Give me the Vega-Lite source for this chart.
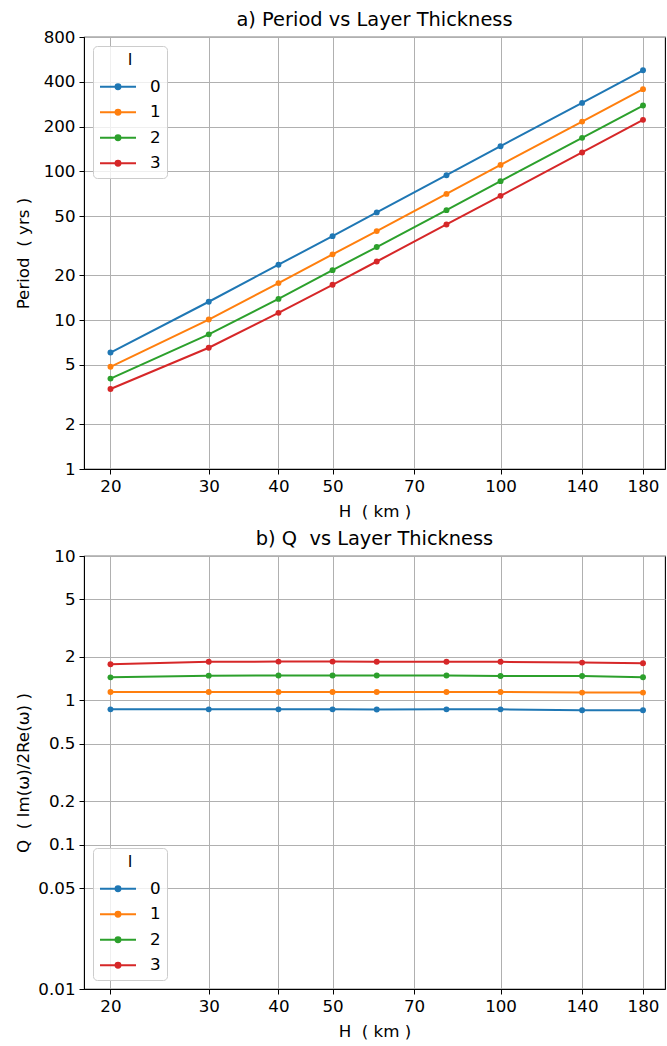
{
  "$schema": "https://vega.github.io/schema/vega-lite/v6.json",
  "padding": {"left": 14, "top": 9, "right": 0, "bottom": 4},
  "background": "white",
  "config": {
    "font": "DejaVu Sans",
    "view": {"stroke": "black", "strokeWidth": 1.1},
    "axis": {
      "domainColor": "black", "tickColor": "black", "labelColor": "black", "titleColor": "black",
      "gridColor": "#b0b0b0", "gridWidth": 1, "labelFontSize": 16.7, "titleFontSize": 16.7,
      "titleFontWeight": "normal", "tickSize": 5, "labelPadding": 4,
      "labelFont": "DejaVu Sans", "titleFont": "DejaVu Sans"
    },
    "axisY": {"minExtent": 47, "maxExtent": 47, "titlePadding": 5},
    "axisX": {"titlePadding": 9},
    "title": {"fontSize": 19.4, "fontWeight": "normal", "offset": -1, "font": "DejaVu Sans", "color": "black"},
    "legend": {
      "fillColor": "rgba(255,255,255,0.8)", "strokeColor": "#cccccc", "cornerRadius": 4, "padding": 6,
      "titleFontSize": 16.7, "labelFontSize": 16.7, "titleFontWeight": "normal", "titleAnchor": "middle",
      "titleColor": "black", "labelColor": "black", "titleFont": "DejaVu Sans", "labelFont": "DejaVu Sans",
      "titlePadding": 7,
      "symbolType": "M-1,0H2.6M0.555,0A0.245,0.245 0 1,0 1.045,0A0.245,0.245 0 1,0 0.555,0Z",
      "symbolSize": 400, "symbolStrokeWidth": 2, "labelOffset": 29, "rowPadding": 5.5
    }
  },
  "datasets": {
    "period": [
      {"H": 20, "l": "0", "v": 6.06}, {"H": 30, "l": "0", "v": 13.3}, {"H": 40, "l": "0", "v": 23.6},
      {"H": 50, "l": "0", "v": 36.7}, {"H": 60, "l": "0", "v": 53.0}, {"H": 80, "l": "0", "v": 94.3},
      {"H": 100, "l": "0", "v": 147.7}, {"H": 140, "l": "0", "v": 288.5}, {"H": 180, "l": "0", "v": 478},
      {"H": 20, "l": "1", "v": 4.86}, {"H": 30, "l": "1", "v": 10.1}, {"H": 40, "l": "1", "v": 17.75},
      {"H": 50, "l": "1", "v": 27.7}, {"H": 60, "l": "1", "v": 39.7}, {"H": 80, "l": "1", "v": 70.6},
      {"H": 100, "l": "1", "v": 110.6}, {"H": 140, "l": "1", "v": 216}, {"H": 180, "l": "1", "v": 357},
      {"H": 20, "l": "2", "v": 4.05}, {"H": 30, "l": "2", "v": 8.03}, {"H": 40, "l": "2", "v": 13.9},
      {"H": 50, "l": "2", "v": 21.7}, {"H": 60, "l": "2", "v": 31.0}, {"H": 80, "l": "2", "v": 54.9},
      {"H": 100, "l": "2", "v": 86.0}, {"H": 140, "l": "2", "v": 168}, {"H": 180, "l": "2", "v": 277},
      {"H": 20, "l": "3", "v": 3.45}, {"H": 30, "l": "3", "v": 6.53}, {"H": 40, "l": "3", "v": 11.2},
      {"H": 50, "l": "3", "v": 17.3}, {"H": 60, "l": "3", "v": 24.8}, {"H": 80, "l": "3", "v": 44.0},
      {"H": 100, "l": "3", "v": 68.5}, {"H": 140, "l": "3", "v": 134}, {"H": 180, "l": "3", "v": 222}
    ],
    "q": [
      {"H": 20, "l": "0", "v": 0.866}, {"H": 30, "l": "0", "v": 0.866}, {"H": 40, "l": "0", "v": 0.866},
      {"H": 50, "l": "0", "v": 0.866}, {"H": 60, "l": "0", "v": 0.865}, {"H": 80, "l": "0", "v": 0.866},
      {"H": 100, "l": "0", "v": 0.866}, {"H": 140, "l": "0", "v": 0.853}, {"H": 180, "l": "0", "v": 0.853},
      {"H": 20, "l": "1", "v": 1.142}, {"H": 30, "l": "1", "v": 1.142}, {"H": 40, "l": "1", "v": 1.142},
      {"H": 50, "l": "1", "v": 1.142}, {"H": 60, "l": "1", "v": 1.141}, {"H": 80, "l": "1", "v": 1.141},
      {"H": 100, "l": "1", "v": 1.142}, {"H": 140, "l": "1", "v": 1.131}, {"H": 180, "l": "1", "v": 1.131},
      {"H": 20, "l": "2", "v": 1.443}, {"H": 30, "l": "2", "v": 1.483}, {"H": 40, "l": "2", "v": 1.485},
      {"H": 50, "l": "2", "v": 1.485}, {"H": 60, "l": "2", "v": 1.485}, {"H": 80, "l": "2", "v": 1.485},
      {"H": 100, "l": "2", "v": 1.475}, {"H": 140, "l": "2", "v": 1.475}, {"H": 180, "l": "2", "v": 1.445},
      {"H": 20, "l": "3", "v": 1.776}, {"H": 30, "l": "3", "v": 1.849}, {"H": 40, "l": "3", "v": 1.855},
      {"H": 50, "l": "3", "v": 1.855}, {"H": 60, "l": "3", "v": 1.849}, {"H": 80, "l": "3", "v": 1.849},
      {"H": 100, "l": "3", "v": 1.849}, {"H": 140, "l": "3", "v": 1.825}, {"H": 180, "l": "3", "v": 1.805}
    ]
  },
  "spacing": 7,
  "resolve": {"scale": {"color": "independent"}, "legend": {"color": "independent"}},
  "vconcat": [
    {
      "title": {"text": "a) Period vs Layer Thickness"},
      "width": 581, "height": 432,
      "data": {"name": "period"},
      "encoding": {
        "x": {"field": "H", "type": "quantitative", "title": "H\u00a0\u00a0( km )",
              "scale": {"type": "log", "domain": [17.93, 197.1], "nice": false},
              "axis": {"values": [20, 30, 40, 50, 70, 100, 140, 180], "format": "~g"}},
        "y": {"field": "v", "type": "quantitative", "title": "Period\u00a0\u00a0( yrs )",
              "scale": {"type": "log", "domain": [1, 800], "nice": false},
              "axis": {"values": [1, 2, 5, 10, 20, 50, 100, 200, 400, 800], "format": "~g"}},
        "color": {"field": "l", "type": "nominal", "title": "l",
                  "scale": {"domain": ["0", "1", "2", "3"], "range": ["#1f77b4", "#ff7f0e", "#2ca02c", "#d62728"]},
                  "legend": {"orient": "top-left", "offset": 9}}
      },
      "layer": [
        {"mark": {"type": "line", "strokeWidth": 2}},
        {"mark": {"type": "point", "filled": true, "size": 35, "opacity": 1}}
      ]
    },
    {
      "title": {"text": "b) Q\u00a0\u00a0vs Layer Thickness"},
      "width": 581, "height": 433,
      "data": {"name": "q"},
      "encoding": {
        "x": {"field": "H", "type": "quantitative", "title": "H\u00a0\u00a0( km )",
              "scale": {"type": "log", "domain": [17.93, 197.1], "nice": false},
              "axis": {"values": [20, 30, 40, 50, 70, 100, 140, 180], "format": "~g"}},
        "y": {"field": "v", "type": "quantitative", "title": "Q\u00a0\u00a0( Im(ω)/2Re(ω) )",
              "scale": {"type": "log", "domain": [0.01, 10], "nice": false},
              "axis": {"values": [0.01, 0.05, 0.1, 0.2, 0.5, 1, 2, 5, 10], "format": "~g"}},
        "color": {"field": "l", "type": "nominal", "title": "l",
                  "scale": {"domain": ["0", "1", "2", "3"], "range": ["#1f77b4", "#ff7f0e", "#2ca02c", "#d62728"]},
                  "legend": {"orient": "bottom-left", "offset": 9}}
      },
      "layer": [
        {"mark": {"type": "line", "strokeWidth": 2}},
        {"mark": {"type": "point", "filled": true, "size": 35, "opacity": 1}}
      ]
    }
  ]
}
